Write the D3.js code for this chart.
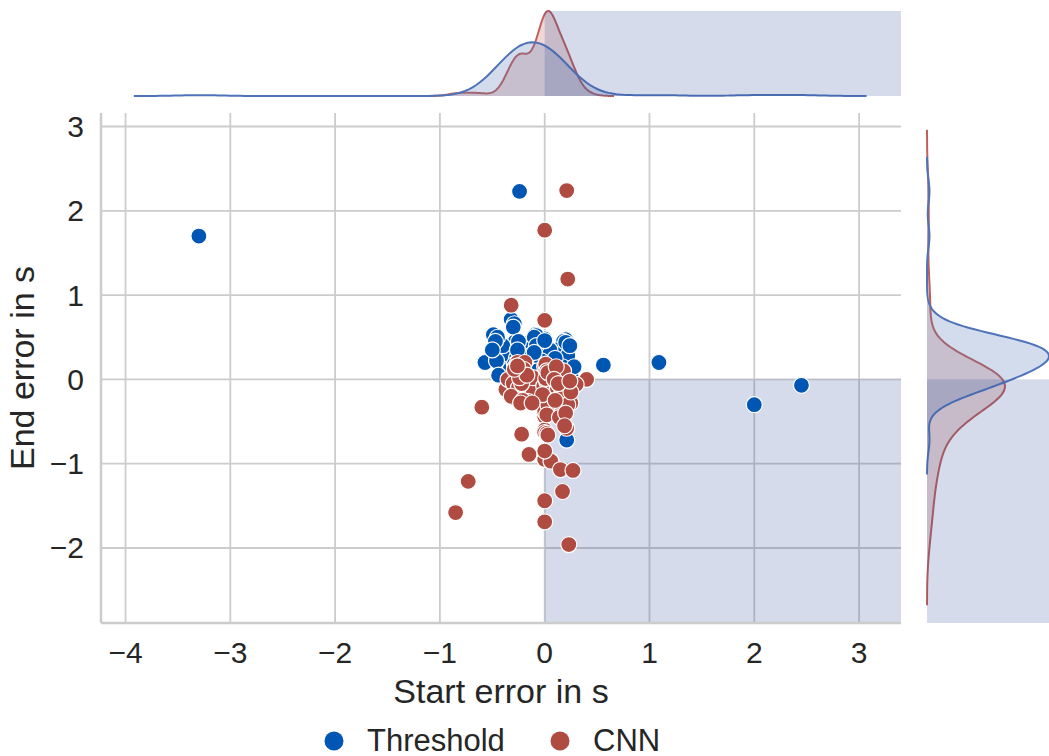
<!DOCTYPE html>
<html>
<head>
<meta charset="utf-8">
<script src="https://cdn.jsdelivr.net/npm/d3@7"></script>
<style>
  body { margin: 0; background: #ffffff; }
  text { font-family: "Liberation Sans", Arial, sans-serif; fill: #262626; }
</style>
</head>
<body>
<svg id="chart" width="1049" height="756"></svg>
<script>
// ---- data: [start error, end error] in seconds ----
const seriesNames = ["Threshold", "CNN"];

const thresholdPoints = [
  [-3.30, 1.70], [-0.24, 2.23], [0.56, 0.17], [1.09, 0.20], [2.00, -0.30], [2.45, -0.07], [0.21, -0.72],
  [-0.57, 0.20], [-0.49, 0.53], [-0.45, 0.43], [-0.32, 0.71], [-0.29, 0.66], [-0.32, 0.41], [-0.27, 0.47],
  [-0.09, 0.53], [0.00, 0.48], [0.20, 0.47], [-0.17, 0.33], [-0.08, 0.39], [0.11, 0.33], [-0.32, 0.27],
  [0.19, 0.21], [0.05, 0.23], [-0.11, 0.25], [-0.06, 0.15], [-0.33, 0.23], [0.16, -0.12], [0.13, -0.24],
  [-0.38, 0.34], [-0.21, 0.43], [0.02, 0.36],
  [-0.42, 0.10], [-0.38, 0.02], [-0.35, 0.30], [-0.30, -0.05], [-0.28, 0.45], [-0.25, 0.15], [-0.30, 0.62],
  [-0.20, -0.10], [-0.18, 0.38], [-0.15, 0.05], [-0.08, 0.52], [-0.10, -0.15], [-0.08, 0.30], [-0.05, 0.00],
  [-0.02, 0.45], [0.00, -0.20], [0.03, 0.12], [0.18, 0.45], [0.09, -0.05], [0.12, 0.35], [0.15, 0.08],
  [0.18, -0.12], [0.22, 0.28], [0.25, 0.05], [-0.46, 0.22], [-0.40, 0.40], [-0.36, -0.08], [-0.33, 0.12],
  [-0.27, 0.25], [-0.24, -0.18], [-0.21, 0.35], [-0.18, 0.10], [-0.16, 0.22], [-0.13, 0.42], [-0.11, -0.02],
  [-0.09, 0.18], [-0.10, 0.50], [-0.04, 0.12], [-0.01, 0.28], [0.02, -0.10], [0.05, 0.35], [0.08, 0.18],
  [0.11, -0.22], [0.20, 0.44], [0.17, 0.15], [0.20, -0.02], [-0.45, 0.50], [-0.26, 0.05], [-0.23, 0.20],
  [-0.25, 0.45], [-0.14, 0.28], [-0.12, 0.02], [-0.08, 0.40], [-0.03, 0.22], [0.00, 0.46], [0.04, -0.05],
  [0.10, 0.25], [-0.29, 0.18], [-0.17, -0.05], [-0.07, 0.10], [-0.47, 0.45], [-0.44, 0.05], [0.24, 0.40],
  [-0.50, 0.35], [0.28, 0.15], [-0.20, 0.28], [-0.10, 0.32], [0.00, 0.08], [-0.26, 0.35], [0.07, 0.02]
];

const cnnPoints = [
  [0.21, 2.24], [0.00, 1.77], [0.22, 1.19], [-0.32, 0.88], [0.00, 0.70], [-0.60, -0.33], [-0.73, -1.21],
  [-0.85, -1.58], [-0.22, -0.65], [-0.15, -0.89], [0.00, -0.95], [0.06, -0.97], [0.15, -1.07], [0.27, -1.08],
  [0.17, -1.33], [0.00, -1.44], [0.00, -1.69], [0.23, -1.96], [0.40, 0.00], [-0.26, 0.20], [-0.19, 0.20],
  [-0.33, 0.00], [-0.21, 0.00], [0.00, 0.00], [0.10, 0.06], [0.17, 0.00], [0.30, -0.06], [-0.37, -0.12],
  [-0.25, -0.20], [-0.14, -0.12], [0.00, -0.30], [0.25, -0.28], [0.13, -0.39], [0.00, -0.44], [0.21, -0.58],
  [0.00, -0.60], [0.08, -0.06], [-0.11, 0.02], [0.19, -0.04], [-0.35, 0.00], [0.00, -0.85],
  [0.00, -0.10], [0.01, 0.12], [0.02, 0.02], [0.00, -0.20], [0.03, 0.00], [0.01, -0.25], [0.02, -0.35],
  [0.00, 0.15], [-0.01, -0.08], [0.03, 0.05], [0.02, -0.03], [0.01, 0.18], [0.04, -0.06], [0.00, -0.38],
  [0.02, 0.10], [0.03, -0.30], [0.00, -0.63], [-0.02, -0.18], [0.04, 0.03], [0.02, -0.42], [0.01, 0.01],
  [0.03, 0.08], [0.02, -0.64], [0.03, -0.66],
  [-0.30, -0.05], [-0.28, 0.15], [-0.25, -0.10], [-0.22, -0.05], [-0.20, 0.12], [-0.16, -0.26], [-0.24, 0.02],
  [-0.29, -0.22], [-0.32, -0.20], [-0.21, -0.25], [-0.17, 0.05], [-0.29, 0.12], [-0.23, -0.28], [-0.12, -0.28],
  [-0.26, 0.16],
  [0.12, -0.10], [0.15, -0.20], [0.18, 0.10], [0.22, -0.30], [0.10, -0.25], [0.14, -0.45], [0.20, -0.40],
  [0.25, -0.15], [0.11, 0.15], [0.19, -0.55], [0.09, 0.00], [0.13, -0.05], [0.24, -0.02]
];

const xTicks = [-4, -3, -2, -1, 0, 1, 2, 3];
const yTicks = [-2, -1, 0, 1, 2, 3];
const xLabel = "Start error in s";
const yLabel = "End error in s";

// ---- layout ----
const joint = { left: 101, right: 901, top: 113, bottom: 623 };
const margTop = { top: 11, bottom: 96 };
const margRight = { left: 927, right: 1049 };

const colors = { Threshold: "#0057b3", CNN: "#b04b42" };
const kdeLine = { Threshold: "#4f73b8", CNN: "#c0605a" };
const spanFill = "rgb(45,75,150)";
const spanOpacity = 0.2;

const x = d3.scaleLinear().domain([-4.234, 3.40]).range([joint.left, joint.right]);
const y = d3.scaleLinear().domain([-2.89, 3.16]).range([joint.bottom, joint.top]);

const svg = d3.select("#chart");
const fmt = v => (v < 0 ? "\u2212" + Math.abs(v) : String(v));

const groups = [
  { name: "Threshold", pts: thresholdPoints },
  { name: "CNN", pts: cnnPoints }
];
const nTotal = d3.sum(groups, g => g.pts.length);

// Gaussian KDE, Scott bandwidth, cut = 3, normalised over all groups
function kde(values, share) {
  const n = values.length;
  const bw = d3.deviation(values) * Math.pow(n, -1 / 5);
  const lo = d3.min(values) - 3 * bw, hi = d3.max(values) + 3 * bw;
  const c = share / (n * bw * Math.sqrt(2 * Math.PI));
  return d3.range(200).map(i => {
    const g = lo + (hi - lo) * i / 199;
    return [g, c * d3.sum(values, v => Math.exp(-0.5 * ((g - v) / bw) ** 2))];
  });
}

groups.forEach(g => {
  g.kx = kde(g.pts.map(p => p[0]), g.pts.length / nTotal);
  g.ky = kde(g.pts.map(p => p[1]), g.pts.length / nTotal);
});

// ---- joint axes ----
const gJ = svg.append("g");
gJ.selectAll("line.vgrid").data(xTicks).join("line")
  .attr("x1", d => x(d)).attr("x2", d => x(d))
  .attr("y1", joint.top).attr("y2", joint.bottom)
  .attr("stroke", "#cccccc").attr("stroke-width", 1.8);
gJ.selectAll("line.hgrid").data(yTicks).join("line")
  .attr("x1", joint.left).attr("x2", joint.right)
  .attr("y1", d => y(d)).attr("y2", d => y(d))
  .attr("stroke", "#cccccc").attr("stroke-width", 1.8);

// region where start error >= 0 and end error <= 0
gJ.append("rect")
  .attr("x", x(0)).attr("y", y(0))
  .attr("width", joint.right - x(0)).attr("height", joint.bottom - y(0))
  .attr("fill", spanFill).attr("opacity", spanOpacity);

// spines
gJ.append("line").attr("x1", joint.left).attr("x2", joint.left)
  .attr("y1", joint.top).attr("y2", joint.bottom)
  .attr("stroke", "#cccccc").attr("stroke-width", 2.5);
gJ.append("line").attr("x1", joint.left).attr("x2", joint.right)
  .attr("y1", joint.bottom).attr("y2", joint.bottom)
  .attr("stroke", "#cccccc").attr("stroke-width", 2.5);

// tick labels
gJ.selectAll("text.xt").data(xTicks).join("text")
  .attr("x", d => x(d)).attr("y", 663)
  .attr("text-anchor", "middle").style("font-size", "30px")
  .text(fmt);
gJ.selectAll("text.yt").data(yTicks).join("text")
  .attr("x", 84).attr("y", d => y(d) + 10.5)
  .attr("text-anchor", "end").style("font-size", "30px")
  .text(fmt);

gJ.append("text").attr("x", (joint.left + joint.right) / 2).attr("y", 703)
  .attr("text-anchor", "middle").style("font-size", "34px").text(xLabel);
gJ.append("text")
  .attr("transform", `translate(34,${(joint.top + joint.bottom) / 2}) rotate(-90)`)
  .attr("text-anchor", "middle").style("font-size", "34px").text(yLabel);

// scatter: Threshold first, CNN on top
groups.forEach(g => {
  gJ.append("g").selectAll("circle").data(g.pts).join("circle")
    .attr("cx", d => x(d[0])).attr("cy", d => y(d[1])).attr("r", 8)
    .attr("fill", colors[g.name]).attr("stroke", "#ffffff").attr("stroke-width", 1.2);
});

// ---- top marginal (start error density) ----
const dxMax = d3.max(groups, g => d3.max(g.kx, d => d[1]));
const yTop = d3.scaleLinear().domain([0, dxMax]).range([margTop.bottom, margTop.top]);
svg.append("clipPath").attr("id", "clipTop").append("rect")
  .attr("x", joint.left).attr("y", 0).attr("width", joint.right - joint.left).attr("height", margTop.bottom + 1);
const gT = svg.append("g").attr("clip-path", "url(#clipTop)");
const areaX = d3.area().x(d => x(d[0])).y0(yTop(0)).y1(d => yTop(d[1]));
const lineX = d3.line().x(d => x(d[0])).y(d => yTop(d[1]));
[...groups].reverse().forEach(g => {
  gT.append("path").attr("d", areaX(g.kx)).attr("fill", kdeLine[g.name]).attr("fill-opacity", 0.25);
  gT.append("path").attr("d", lineX(g.kx)).attr("fill", "none")
    .attr("stroke", kdeLine[g.name]).attr("stroke-width", 2);
});
gT.append("rect").attr("x", x(0)).attr("y", margTop.top)
  .attr("width", joint.right - x(0)).attr("height", margTop.bottom - margTop.top)
  .attr("fill", spanFill).attr("opacity", spanOpacity);

// ---- right marginal (end error density) ----
const dyMax = d3.max(groups, g => d3.max(g.ky, d => d[1]));
const xRight = d3.scaleLinear().domain([0, dyMax]).range([margRight.left, margRight.right]);
svg.append("clipPath").attr("id", "clipRight").append("rect")
  .attr("x", margRight.left - 1).attr("y", joint.top).attr("width", margRight.right - margRight.left + 1)
  .attr("height", joint.bottom - joint.top);
const gR = svg.append("g").attr("clip-path", "url(#clipRight)");
const areaY = d3.area().y(d => y(d[0])).x0(xRight(0)).x1(d => xRight(d[1]));
const lineY = d3.line().y(d => y(d[0])).x(d => xRight(d[1]));
[...groups].reverse().forEach(g => {
  gR.append("path").attr("d", areaY(g.ky)).attr("fill", kdeLine[g.name]).attr("fill-opacity", 0.25);
  gR.append("path").attr("d", lineY(g.ky)).attr("fill", "none")
    .attr("stroke", kdeLine[g.name]).attr("stroke-width", 2);
});
gR.append("rect").attr("x", margRight.left).attr("y", y(0))
  .attr("width", margRight.right - margRight.left).attr("height", joint.bottom - y(0))
  .attr("fill", spanFill).attr("opacity", spanOpacity);

// ---- legend ----
const legendItems = [
  { name: seriesNames[0], cx: 334, tx: 367 },
  { name: seriesNames[1], cx: 560, tx: 593 }
];
const gL = svg.append("g");
legendItems.forEach(it => {
  gL.append("circle").attr("cx", it.cx).attr("cy", 741).attr("r", 9.5).attr("fill", colors[it.name]);
  gL.append("text").attr("x", it.tx).attr("y", 751).style("font-size", "31px").text(it.name);
});
</script>
</body>
</html>
